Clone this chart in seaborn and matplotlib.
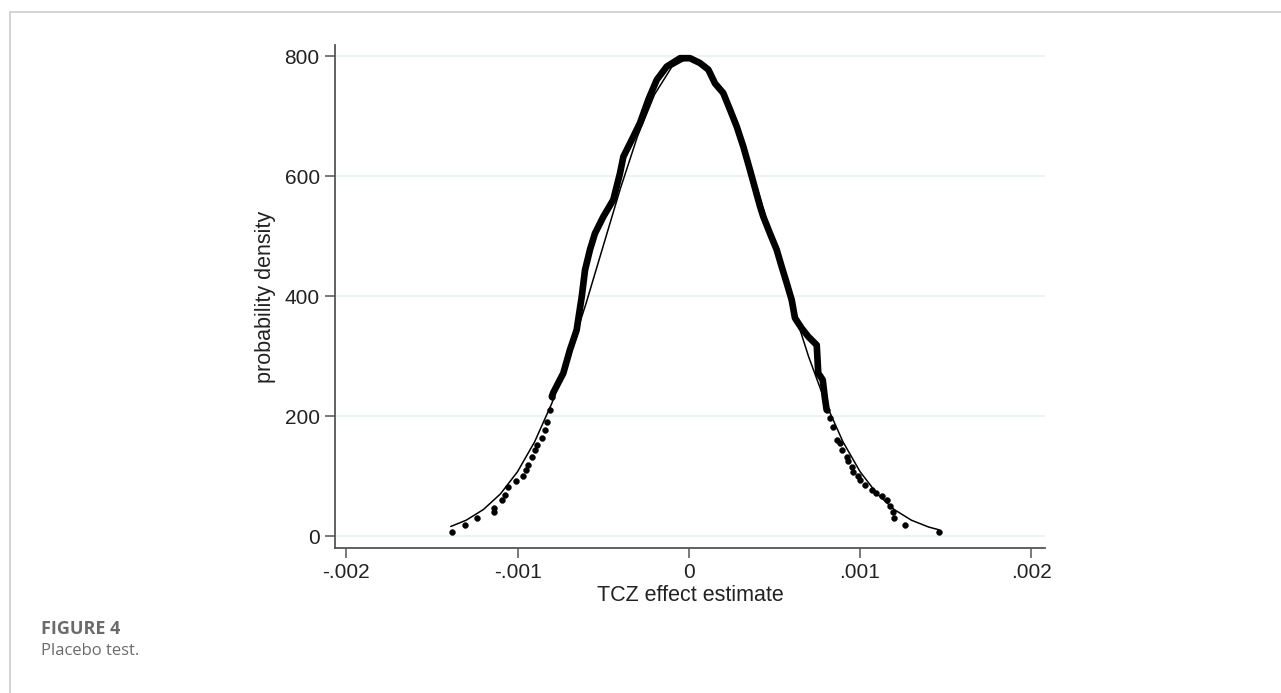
import matplotlib
matplotlib.use("Agg")
import matplotlib.pyplot as plt
import seaborn as sns
import pandas as pd

# kernel density of placebo estimates: dense core (drawn as thick line)
core_x = [-0.000800, -0.000791, -0.000733, -0.000694, -0.000655, -0.000625, -0.000606,
          -0.000577, -0.000548, -0.000499, -0.000441, -0.000402, -0.000382, -0.000333,
          -0.000285, -0.000236, -0.000187, -0.000129, -0.000051, 0.000007, 0.000065,
          0.000114, 0.000153, 0.000201, 0.000241, 0.000280, 0.000318, 0.000357,
          0.000416, 0.000435, 0.000474, 0.000513, 0.000542, 0.000572, 0.000601,
          0.000620, 0.000659, 0.000698, 0.000747, 0.000756, 0.000782, 0.000795, 0.000805]
core_y = [233, 240, 272, 311, 344, 400, 444,
          478, 505, 533, 561, 605, 633, 661,
          689, 728, 761, 783, 797, 797, 789,
          778, 755, 739, 711, 683, 650, 611,
          550, 533, 505, 478, 450, 422, 394,
          364, 347, 333, 319, 272, 261, 230, 211]

# kernel density points in the tails (drawn as dots)
tail_x = [-0.001385, -0.001305, -0.001239, -0.001140, -0.001136, -0.001092, -0.001073,
          -0.001054, -0.001009, -0.000966, -0.000951, -0.000937, -0.000917, -0.000898,
          -0.000884, -0.000859, -0.000840, -0.000826, -0.000810, -0.000800,
          0.000805, 0.000825, 0.000844, 0.000864, 0.000883, 0.000893, 0.000922,
          0.000931, 0.000951, 0.000961, 0.000990, 0.001000, 0.001029, 0.001068,
          0.001093, 0.001126, 0.001159, 0.001175, 0.001191, 0.001198, 0.001262, 0.001463]
tail_y = [8, 19, 30, 40, 47, 60, 69,
          83, 93, 101, 111, 119, 132, 144,
          152, 164, 178, 190, 211, 233,
          211, 198, 183, 161, 155, 144, 133,
          125, 116, 108, 100, 94, 86, 77.5,
          72, 67.5, 60, 50, 41, 30, 19, 8]

# normal density reference curve
norm_x = [-0.00139, -0.0013, -0.0012, -0.0011, -0.0010, -0.0009, -0.0008, -0.0007,
          -0.0006, -0.0005, -0.0004, -0.0003, -0.0002, -0.0001, 0.0,
          0.0001, 0.0002, 0.0003, 0.0004, 0.0005, 0.0006, 0.0007, 0.0008,
          0.0009, 0.0010, 0.0011, 0.0012, 0.0013, 0.0014, 0.00146]
norm_y = [16.7, 27.1, 44.8, 70.9, 108.0, 157.9, 221.8, 299.4,
          388.4, 483.9, 579.4, 666.5, 736.6, 782.1, 797.9,
          782.1, 736.6, 666.5, 579.4, 483.9, 388.4, 299.4, 221.8,
          157.9, 108.0, 70.9, 44.8, 27.1, 15.8, 11.2]

x_ticks = [-0.002, -0.001, 0, 0.001, 0.002]
x_tick_labels = ["-.002", "-.001", "0", ".001", ".002"]
y_ticks = [0, 200, 400, 600, 800]

sns.set_theme(style="white")
plt.rcParams["font.family"] = ["Liberation Sans", "DejaVu Sans"]

fig = plt.figure(figsize=(12.81, 6.93), dpi=100)
ax = fig.add_axes([335 / 1281, 1 - 548 / 693, (1045 - 335) / 1281, (548 - 45) / 693])

df_norm = pd.DataFrame({"x": norm_x, "y": norm_y})
df_core = pd.DataFrame({"x": core_x, "y": core_y})
df_tail = pd.DataFrame({"x": tail_x, "y": tail_y})

for yv in y_ticks:
    ax.axhline(yv, color="#e9f1f3", lw=1.2, zorder=0)

sns.lineplot(data=df_norm, x="x", y="y", ax=ax, color="black", lw=1.1,
             sort=False, estimator=None, zorder=2)
sns.lineplot(data=df_core, x="x", y="y", ax=ax, color="black", lw=4.8,
             sort=False, estimator=None, zorder=3, solid_capstyle="round",
             solid_joinstyle="round")
sns.scatterplot(data=df_tail, x="x", y="y", ax=ax, color="black", s=18,
                edgecolor="black", linewidth=0.3, zorder=4)

ax.set_xlim(-0.002066, 0.002080)
ax.set_ylim(-19.2, 819)
ax.set_xticks(x_ticks)
ax.set_xticklabels(x_tick_labels)
ax.set_yticks(y_ticks)
ax.set_yticklabels([str(v) for v in y_ticks])

for side in ["top", "right"]:
    ax.spines[side].set_visible(False)
for side in ["left", "bottom"]:
    ax.spines[side].set_color("#555555")
    ax.spines[side].set_linewidth(1.3)

ax.tick_params(axis="both", which="major", direction="out", length=7, width=1.1,
               color="#555555", labelsize=15, labelcolor="#222222", pad=4,
               left=True, bottom=True)
ax.grid(False)
ax.set_xlabel("TCZ effect estimate", fontsize=15.5, color="#222222", labelpad=2)
ax.set_ylabel("probability density", fontsize=15.5, color="#222222", labelpad=6)

# page frame lines (left and top)
fig.add_artist(plt.Line2D([9.5 / 1281, 9.5 / 1281], [0, 1 - 12 / 693],
                          transform=fig.transFigure, color="#cccccc", lw=1.2))
fig.add_artist(plt.Line2D([9.5 / 1281, 1], [1 - 12 / 693, 1 - 12 / 693],
                          transform=fig.transFigure, color="#cccccc", lw=1.2))

fig.text(41 / 1281, 1 - 629 / 693, "FIGURE 4", fontsize=13, color="#6b6b6b",
         fontweight="bold", family=["Open Sans", "DejaVu Sans"], va="center", ha="left")
fig.text(41 / 1281, 1 - 651 / 693, "Placebo test.", fontsize=12, color="#6b6b6b",
         family=["Open Sans", "DejaVu Sans"], va="center", ha="left")

fig.savefig("out.png", dpi=100)
